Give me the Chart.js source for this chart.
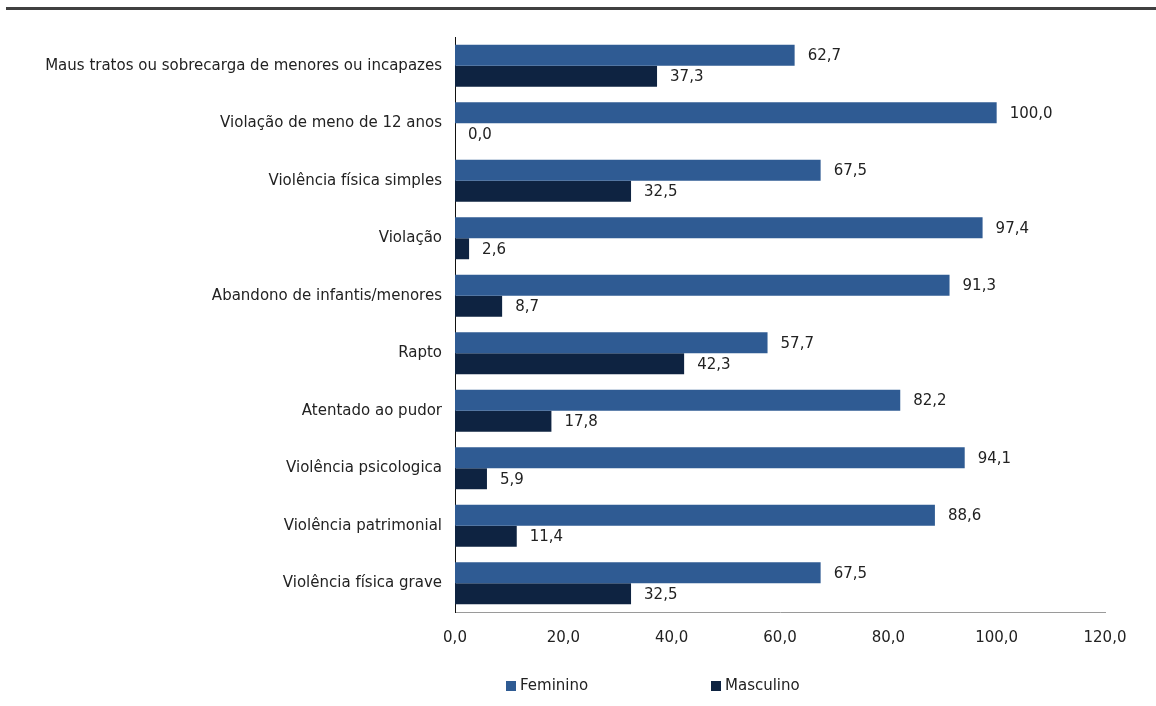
<!DOCTYPE html>
<html lang="pt">
<head>
  <meta charset="UTF-8">
  <title>Violência por sexo da vítima</title>
  <style>
    html, body {
      margin: 0;
      padding: 0;
      background-color: #ffffff;
    }
    #wrap {
      position: relative;
      width: 1156px;
      height: 706px;
      overflow: hidden;
    }
    #topline {
      position: absolute;
      top: 7px;
      left: 6px;
      right: 0;
      height: 3px;
      background-color: #404040; /* faixa escura no topo */
    }
    #chart {
      position: absolute;
      top: 0;
      left: 0;
    }
  </style>
  <script src="https://cdn.jsdelivr.net/npm/chart.js"></script>
</head>
<body>
  <div id="wrap">
    <div id="topline"></div>
    <canvas id="chart" width="1156" height="706"></canvas>
  </div>

  <script>
    const categories = [
      'Maus tratos ou sobrecarga de menores ou incapazes',
      'Violação de meno de 12 anos',
      'Violência física simples',
      'Violação',
      'Abandono de infantis/menores',
      'Rapto',
      'Atentado ao pudor',
      'Violência psicologica',
      'Violência patrimonial',
      'Violência física grave'
    ];
    const feminino = [62.7, 100.0, 67.5, 97.4, 91.3, 57.7, 82.2, 94.1, 88.6, 67.5];
    const masculino = [37.3, 0.0, 32.5, 2.6, 8.7, 42.3, 17.8, 5.9, 11.4, 32.5];
    const xTicks = [0, 20, 40, 60, 80, 100, 120];

    const FONT = 'DejaVu Sans';
    const TEXT = '#222222';
    const fmt = v => v.toFixed(1).replace('.', ',');

    // valores à direita de cada barra
    const valueLabels = {
      id: 'valueLabels',
      afterDatasetsDraw(chart) {
        const ctx = chart.ctx;
        ctx.save();
        ctx.font = '15px "' + FONT + '"';
        ctx.fillStyle = TEXT;
        ctx.textAlign = 'left';
        ctx.textBaseline = 'middle';
        chart.data.datasets.forEach((ds, i) => {
          chart.getDatasetMeta(i).data.forEach((bar, j) => {
            ctx.fillText(fmt(ds.data[j]), bar.x + 13, bar.y + 1);
          });
        });
        ctx.restore();
      }
    };

    // legenda simples em baixo, com o espaçamento do original
    const bottomLegend = {
      id: 'bottomLegend',
      afterDraw(chart) {
        const ctx = chart.ctx;
        const starts = [506, 711];
        const y = 686;
        ctx.save();
        ctx.font = '15px "' + FONT + '"';
        ctx.textAlign = 'left';
        ctx.textBaseline = 'middle';
        chart.data.datasets.forEach((ds, i) => {
          ctx.fillStyle = ds.backgroundColor;
          ctx.fillRect(starts[i], y - 5, 10, 10);
          ctx.fillStyle = TEXT;
          ctx.fillText(ds.label, starts[i] + 14, y);
        });
        ctx.restore();
      }
    };

    new Chart(document.getElementById('chart'), {
      type: 'bar',
      data: {
        labels: categories,
        datasets: [
          {
            label: 'Feminino',
            data: feminino,
            backgroundColor: '#2F5B93'
          },
          {
            label: 'Masculino',
            data: masculino,
            backgroundColor: '#0E2341'
          }
        ]
      },
      options: {
        indexAxis: 'y',
        responsive: false,
        animation: false,
        categoryPercentage: 0.73,
        barPercentage: 1.0,
        layout: {
          padding: { top: 37, left: 0, right: 51, bottom: 54 }
        },
        plugins: {
          legend: { display: false },
          tooltip: { enabled: false }
        },
        scales: {
          x: {
            min: 0,
            max: 120,
            afterBuildTicks: scale => {
              scale.ticks = xTicks.map(v => ({ value: v }));
            },
            afterFit: scale => { scale.height = 40; },
            grid: { display: false, drawTicks: false },
            border: { display: true, color: '#9a9a9a', width: 1 },
            ticks: {
              padding: 17,
              color: TEXT,
              font: { family: FONT, size: 15 },
              callback: v => fmt(v)
            }
          },
          y: {
            afterFit: scale => { scale.width = 455; },
            grid: { display: false, drawTicks: false },
            border: { display: true, color: '#111111', width: 1 },
            ticks: {
              padding: 13,
              color: TEXT,
              font: { family: FONT, size: 15 }
            }
          }
        }
      },
      plugins: [valueLabels, bottomLegend]
    });
  </script>
</body>
</html>
